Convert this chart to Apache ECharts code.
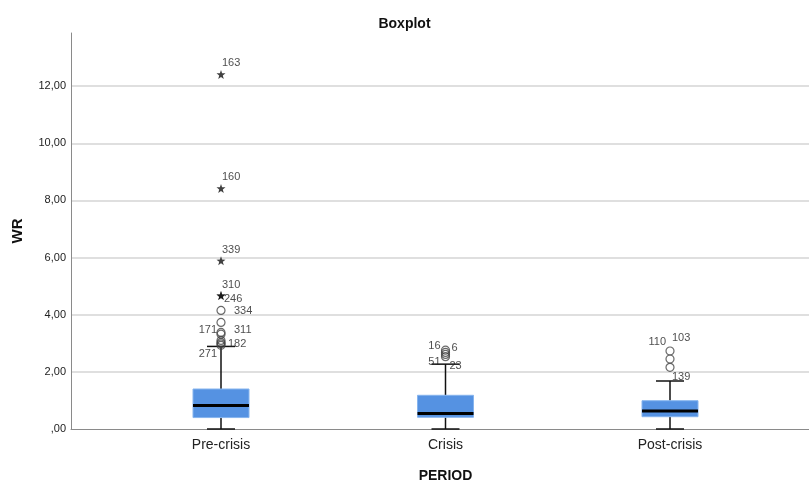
<!DOCTYPE html>
<html><head><meta charset="utf-8">
<script src="https://cdn.jsdelivr.net/npm/echarts@6/dist/echarts.min.js"></script>
<style>html,body{margin:0;padding:0;background:#fff}#c{width:809px;height:481px}</style>
</head><body><div id="c"></div>
<script>
// ---- data ----
const categories = ['Pre-crisis', 'Crisis', 'Post-crisis'];
const whiskerLow = [0.00, 0.00, 0.00];
const q1 = [0.40, 0.41, 0.43];
const median = [0.82, 0.54, 0.63];
const q3 = [1.40, 1.18, 0.99];
const whiskerHigh = [2.89, 2.27, 1.68];
const yTicks = [0, 2, 4, 6, 8, 10, 12];

const preOutValues = [12.41, 8.42, 5.89, 4.67, 4.67, 4.15, 3.73, 3.38, 3.32, 3.10, 3.03, 2.98, 2.93];
const preOutCases = ['163', '160', '339', '310', '246', '334', '', '311', '171', '', '', '182', '271'];
const preOutExtreme = [true, true, true, true, true, false, false, false, false, false, false, false, false];
const crisisOutValues = [2.76, 2.68, 2.61, 2.53];
const crisisOutCases = ['16', '6', '23', '51'];
const crisisOutExtreme = [false, false, false, false];
const postOutValues = [2.73, 2.45, 2.16];
const postOutCases = ['110', '103', '139'];
const postOutExtreme = [false, false, false];

// ---- label placement (style only) ----
const preLabelPlace = [[1,-11,'left'],[1,-11,'left'],[1,-11,'left'],[1,-11,'left'],[3,3,'left'],[13,1,'left'],[0,0,'left'],[13,-2,'left'],[-4,-4,'right'],[0,0,'left'],[0,0,'left'],[7,0,'left'],[-4,9,'right']];
const crisisLabelPlace = [[-5,-4,'right'],[6,-4,'left'],[4,12,'left'],[-5,5,'right']];
const postLabelPlace = [[-4,-9,'right'],[2,-21,'left'],[2,10,'left']];

const STAR = 'path://M0,-10L2.35,-3.24L9.51,-3.09L3.8,1.24L5.88,8.09L0,4L-5.88,8.09L-3.8,1.24L-9.51,-3.09L-2.35,-3.24Z';
const FONT = '"Liberation Sans", Arial, sans-serif';

function outlierItems(cat, vals, cases, extreme, place) {
  return vals.map((v, i) => ({
    value: [cat, v],
    symbol: extreme[i] ? STAR : 'circle',
    symbolSize: extreme[i] ? 9 : 8,
    itemStyle: extreme[i] ? {color: '#111', borderWidth: 0} : {color: 'rgba(255,255,255,0)', borderColor: '#444', borderWidth: 1.2},
    label: {
      show: cases[i] !== '', formatter: cases[i], position: 'inside',
      align: place[i][2], verticalAlign: 'middle', offset: [place[i][0], place[i][1]],
      fontSize: 11, color: '#222', fontFamily: FONT
    }
  }));
}
const outliers = [].concat(
  outlierItems(0, preOutValues, preOutCases, preOutExtreme, preLabelPlace),
  outlierItems(1, crisisOutValues, crisisOutCases, crisisOutExtreme, crisisLabelPlace),
  outlierItems(2, postOutValues, postOutCases, postOutExtreme, postLabelPlace)
);
const boxData = categories.map((c, i) => [i, whiskerLow[i], q1[i], median[i], q3[i], whiskerHigh[i]]);

const YMAX = 13.86;
const chart = echarts.init(document.getElementById('c'), null, {renderer: 'canvas'});
chart.setOption({
  animation: false,
  backgroundColor: '#fff',
  title: {text: 'Boxplot', left: 'center', top: 12, textStyle: {fontSize: 14, fontWeight: 'bold', color: '#111', fontFamily: FONT}},
  grid: [
    {left: 71, right: 0, top: 33, bottom: 52, containLabel: false, outerBoundsMode: 'none'},
    {left: 108.75, width: 673.5, top: 33, bottom: 52, containLabel: false, outerBoundsMode: 'none'}
  ],
  xAxis: [
    {gridIndex: 0, type: 'value', min: 0, max: 1, axisLabel: {show: false}, axisTick: {show: false}, splitLine: {show: false},
     axisLine: {show: true, lineStyle: {color: '#8a8a8a', width: 1}}},
    {gridIndex: 1, type: 'category', data: categories, boundaryGap: true,
     axisLine: {show: false}, axisTick: {show: false},
     axisLabel: {fontSize: 14, color: '#222', margin: 9, fontFamily: FONT},
     name: 'PERIOD', nameLocation: 'middle', nameGap: 40,
     nameTextStyle: {fontSize: 14, fontWeight: 'bold', color: '#111', fontFamily: FONT}}
  ],
  yAxis: [
    {gridIndex: 0, type: 'value', min: 0, max: YMAX, interval: 2,
     axisLine: {show: true, lineStyle: {color: '#8a8a8a', width: 1}},
     axisTick: {show: false},
     axisLabel: {showMaxLabel: false, fontSize: 11, color: '#222', margin: 5, fontFamily: FONT,
       formatter: v => yTicks.indexOf(v) < 0 ? '' : v.toFixed(2).replace('.', ',').replace(/^0/, '')},
     splitLine: {show: true, showMaxLine: false, showMinLine: false, lineStyle: {color: '#d4d4d4', width: 1.5}},
     name: 'WR', nameLocation: 'middle', nameGap: 46, nameRotate: 90,
     nameTextStyle: {fontSize: 15, fontWeight: 'bold', color: '#111', fontFamily: FONT}},
    {gridIndex: 1, type: 'value', min: 0, max: YMAX, show: false, splitLine: {show: false}}
  ],
  series: [
    {
      type: 'custom', xAxisIndex: 1, yAxisIndex: 1, data: boxData, z: 3,
      renderItem: function (params, api) {
        const x = api.value(0);
        const pMin = api.coord([x, api.value(1)]);
        const pQ1 = api.coord([x, api.value(2)]);
        const pMed = api.coord([x, api.value(3)]);
        const pQ3 = api.coord([x, api.value(4)]);
        const pMax = api.coord([x, api.value(5)]);
        const cx = pMed[0], hw = 28, cw = 14;
        const ls = {stroke: '#111', lineWidth: 1.5};
        return {type: 'group', children: [
          {type: 'line', shape: {x1: cx, y1: pQ3[1], x2: cx, y2: pMax[1]}, style: ls},
          {type: 'line', shape: {x1: cx, y1: pQ1[1], x2: cx, y2: pMin[1]}, style: ls},
          {type: 'line', shape: {x1: cx - cw, y1: pMax[1], x2: cx + cw, y2: pMax[1]}, style: ls},
          {type: 'line', shape: {x1: cx - cw, y1: pMin[1], x2: cx + cw, y2: pMin[1]}, style: ls},
          {type: 'rect', shape: {x: cx - hw, y: pQ3[1], width: 2 * hw, height: pQ1[1] - pQ3[1]},
           style: {fill: '#5592e2', stroke: '#86b4ee', lineWidth: 1}},
          {type: 'line', shape: {x1: cx - hw, y1: pMed[1], x2: cx + hw, y2: pMed[1]}, style: {stroke: '#000', lineWidth: 3}}
        ]};
      }
    },
    {type: 'scatter', xAxisIndex: 1, yAxisIndex: 1, data: outliers, z: 4}
  ]
});
</script></body></html>
